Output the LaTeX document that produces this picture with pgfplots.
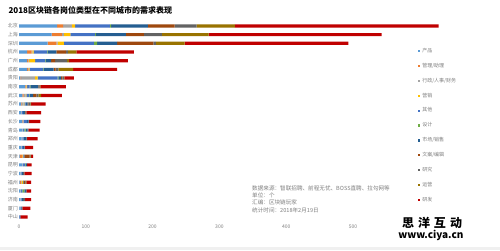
\documentclass[border=0pt]{standalone}
\usepackage{pgfplots}
\pgfplotsset{compat=1.18}
\usepackage{pgfplotstable}
\usepackage{fontspec}
\setmainfont{Noto Sans CJK SC}
\definecolor{c1}{HTML}{5B9BD5}
\definecolor{c2}{HTML}{ED7D31}
\definecolor{c3}{HTML}{A5A5A5}
\definecolor{c4}{HTML}{FFC000}
\definecolor{c5}{HTML}{4472C4}
\definecolor{c6}{HTML}{70AD47}
\definecolor{c7}{HTML}{255E91}
\definecolor{c8}{HTML}{9E480E}
\definecolor{c9}{HTML}{636363}
\definecolor{c10}{HTML}{997300}
\definecolor{c11}{HTML}{C00000}
\definecolor{txt}{HTML}{7F7F7F}
\pgfplotstableread{
y a b c d e f g h i j k
0 57 9 13 5 52 2 55 40 33 57 305
1 49 15 3 10 37 1 45 27 27 70 259
2 43 13 2 9 45 5 30 54 4 43 245
3 12 7 1 2 20 1 13 14 3 13 86
4 12 2 1 9 15 1 8 6 18 3 88
5 12 2 1 1 20 1 15 3 4 22 66
6 2 1 21 4 30 1 4 2 2 1 14
7 9 1 1 1 4 1 12 1 1 1 38
8 5 2 3 1 4 1 5 5 3 4 31
9 3 1 3 1 2 0 3 1 3 1 22
10 3 0 1 0 2 0 3 1 1 0 22
11 5 1 1 0 5 0 2 0 1 0 17
12 5 0 1 0 2 2 3 0 1 0 17
13 4 0 1 0 2 0 4 0 1 0 16
14 3 0 1 0 2 0 2 0 1 0 12
15 1 4 0 1 1 0 1 8 1 1 3
16 5 0 1 0 3 1 2 0 0 0 7
17 2 0 1 0 1 0 2 0 2 0 11
18 1 2 1 2 0 0 1 2 1 1 7
19 2 0 1 0 2 3 3 0 0 0 7
20 2 0 1 0 1 0 2 0 3 0 9
21 1 0 1 0 1 0 1 0 1 0 12
22 0 0 0 0 1 0 1 0 0 0 11
}\datatable
\begin{document}
\begin{tikzpicture}
\path[use as bounding box] (0,0) rectangle (500pt,250pt);
\fill[white] (0,0) rectangle (500pt,250pt);
\fill[gray!12] (0,0) rectangle (500pt,3pt);
\node[anchor=west,font=\fontsize{8}{9}\selectfont\bfseries] at (5pt,240pt) {2018区块链各岗位类型在不同城市的需求表现};
\begin{axis}[
  at={(19pt,28.7pt)}, anchor=south west,
  scale only axis, width=467.6pt, height=199.7pt,
  xbar stacked, bar width=3.2pt,
  xmin=0, xmax=700, ymin=-0.5, ymax=22.5, y dir=reverse,
  xtick={0,100,...,500},
  ytick={0,...,22},
  yticklabels={北京,上海,深圳,杭州,广州,成都,贵阳,南京,武汉,苏州,西安,长沙,青岛,郑州,重庆,天津,昆明,宁波,福州,沈阳,济南,厦门,中山},
  axis line style={draw=none}, tick style={draw=none},
  major tick length=0pt,
  /pgf/number format/assume math mode=true,
  xticklabel style={font=\fontsize{5}{6}\selectfont, text=txt},
  yticklabel style={font=\fontsize{5}{6}\selectfont, text=txt, inner sep=1pt},
  legend image code/.code={\fill[#1] (0pt,-1.1pt) rectangle (2.2pt,1.1pt);},
  legend cell align=left,
  legend style={at={(0.853,0.878)}, anchor=north west, draw=none, fill=none,
    font=\fontsize{5}{6}\selectfont, text=txt, row sep=5.2pt, inner sep=0pt,
    /tikz/every even column/.append style={column sep=1pt}},
  every axis plot/.append style={draw=none},
]
\addplot[fill=c1] table[x=a,y=y]{\datatable};
\addplot[fill=c2] table[x=b,y=y]{\datatable};
\addplot[fill=c3] table[x=c,y=y]{\datatable};
\addplot[fill=c4] table[x=d,y=y]{\datatable};
\addplot[fill=c5] table[x=e,y=y]{\datatable};
\addplot[fill=c6] table[x=f,y=y]{\datatable};
\addplot[fill=c7] table[x=g,y=y]{\datatable};
\addplot[fill=c8] table[x=h,y=y]{\datatable};
\addplot[fill=c9] table[x=i,y=y]{\datatable};
\addplot[fill=c10] table[x=j,y=y]{\datatable};
\addplot[fill=c11] table[x=k,y=y]{\datatable};
\legend{产品,管理/助理,行政/人事/财务,营销,其他,设计,市场/销售,文案/编辑,研究,运营,研发}
\end{axis}
\node[anchor=west,align=left,font=\fontsize{5.6}{7.3}\selectfont,text=txt,inner sep=0pt] at (252pt,51pt) {数据来源：智联招聘、前程无忧、BOSS直聘、拉勾网等\\单位：个\\汇编：区块链玩家\\统计时间：2018年2月19日};
\node[font=\fontsize{12}{12}\selectfont\bfseries,inner sep=0pt] at (432pt,27.5pt) {思\hspace{4pt}洋\hspace{4pt}互\hspace{4pt}动};
\node[font=\fontsize{10}{10}\selectfont\bfseries,inner sep=0pt] at (431pt,15pt) {www.ciya.cn};
\end{tikzpicture}
\end{document}
